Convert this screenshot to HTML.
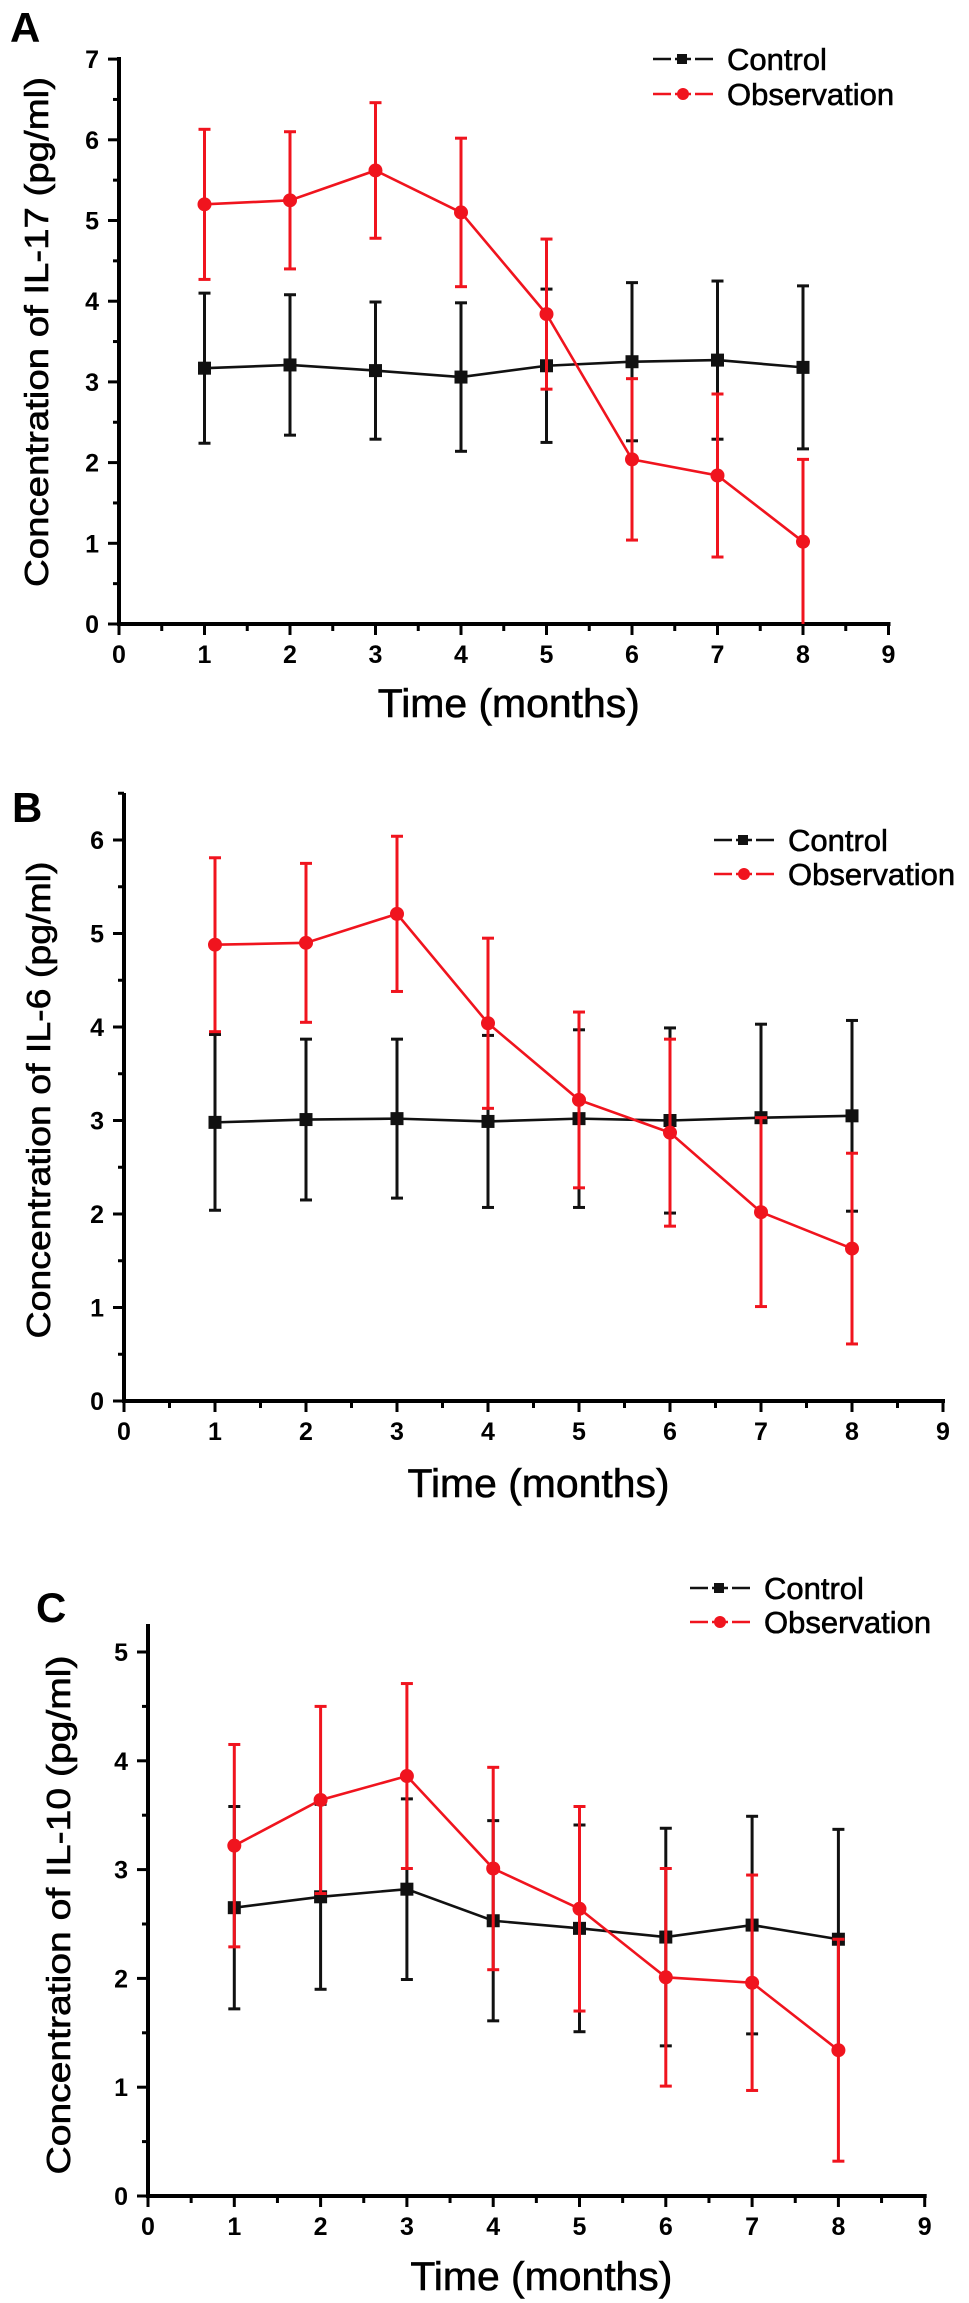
<!DOCTYPE html>
<html><head><meta charset="utf-8">
<style>
html,body{margin:0;padding:0;background:#fff;}
svg{display:block;}
text{font-family:"Liberation Sans",Arial,sans-serif;}
</style></head>
<body>
<svg id="fig" width="969" height="2303" viewBox="0 0 969 2303" xmlns="http://www.w3.org/2000/svg"></svg>
<script>
// ---- data ----
const months = [1,2,3,4,5,6,7,8];
const xTicks = [0,1,2,3,4,5,6,7,8,9];
const aControl = [3.17,3.21,3.14,3.06,3.20,3.25,3.27,3.18];
const aControlErr = [0.93,0.87,0.85,0.92,0.95,0.98,0.98,1.01];
const aObs = [5.20,5.25,5.62,5.10,3.84,2.04,1.84,1.02];
const aObsErr = [0.93,0.85,0.84,0.92,0.93,1.00,1.01,1.02];
const aYTicks = [0,1,2,3,4,5,6,7];
const bControl = [2.98,3.01,3.02,2.99,3.02,3.00,3.03,3.05];
const bControlErr = [0.94,0.86,0.85,0.92,0.95,0.99,1.00,1.02];
const bObs = [4.88,4.90,5.21,4.04,3.22,2.87,2.02,1.63];
const bObsErr = [0.93,0.85,0.83,0.91,0.94,1.00,1.01,1.02];
const bYTicks = [0,1,2,3,4,5,6];
const cControl = [2.65,2.75,2.82,2.53,2.46,2.38,2.49,2.36];
const cControlErr = [0.93,0.85,0.83,0.92,0.95,1.00,1.00,1.01];
const cObs = [3.22,3.64,3.86,3.01,2.64,2.01,1.96,1.34];
const cObsErr = [0.93,0.86,0.85,0.93,0.94,1.00,0.99,1.02];
const cYTicks = [0,1,2,3,4,5];

const NS = "http://www.w3.org/2000/svg";
const svg = document.getElementById('fig');
function mk(tag, attrs, parent){
  const e = document.createElementNS(NS, tag);
  for (const k in attrs) e.setAttribute(k, attrs[k]);
  (parent||svg).appendChild(e);
  return e;
}

const panels = [
  {letter:'A', lx:10, ly:42, x0:119, xu:85.5, y0:624, yu:80.7, ymax:7, top:57,
   ylabel:'Concentration of IL-17 (pg/ml)', ylx:48, yly:332, yllen:510,
   tly:717, ctrl:aControl, ctrlE:aControlErr, obs:aObs, obsE:aObsErr, yt:aYTicks,
   legX:653, legY:[59,94], name:'il17'},
  {letter:'B', lx:12, ly:822, x0:124, xu:91, y0:1401, yu:93.5, ymax:6.5, top:793,
   ylabel:'Concentration of IL-6 (pg/ml)', ylx:50, yly:1100, yllen:477,
   tly:1497, ctrl:bControl, ctrlE:bControlErr, obs:bObs, obsE:bObsErr, yt:bYTicks,
   legX:714, legY:[840,874], name:'il6'},
  {letter:'C', lx:36, ly:1622, x0:148, xu:86.3, y0:2196, yu:108.8, ymax:5.3, top:1624,
   ylabel:'Concentration of IL-10 (pg/ml)', ylx:70, yly:1915, yllen:519,
   tly:2290, ctrl:cControl, ctrlE:cControlErr, obs:cObs, obsE:cObsErr, yt:cYTicks,
   legX:690, legY:[1588,1622], name:'il10'}
];

panels.forEach(p => {
  const g = mk('g', {});
  
  
  const X = v => p.x0 + v * p.xu;
  const Y = v => p.y0 - v * p.yu;

  const lt = mk('text', {x:p.lx, y:p.ly, 'font-size':42, 'font-weight':'bold', fill:'#000'}, g);
  lt.textContent = p.letter;
  
  

  const axes = mk('g', {stroke:'#000', 'stroke-width':4, fill:'none'}, g);
  
  
  mk('line', {x1:X(0), y1:p.top, x2:X(0), y2:p.y0+2}, axes);
  mk('line', {x1:X(0)-2, y1:p.y0, x2:X(9)+2, y2:p.y0}, axes);

  p.yt.forEach(t => {
    mk('line', {x1:X(0)-11, y1:Y(t), x2:X(0), y2:Y(t), 'stroke-width':3}, axes);
    if (Y(t+0.5) > p.top) mk('line', {x1:X(0)-6, y1:Y(t+0.5), x2:X(0), y2:Y(t+0.5), 'stroke-width':3}, axes);
    const tl = mk('text', {x:X(0)-20, y:Y(t)+9, 'font-size':25, 'font-weight':'bold', 'text-anchor':'end'}, g);
    tl.textContent = t;
    
    
  });
  xTicks.forEach(t => {
    mk('line', {x1:X(t), y1:p.y0, x2:X(t), y2:p.y0+11, 'stroke-width':3}, axes);
    if (t < 9) mk('line', {x1:X(t+0.5), y1:p.y0, x2:X(t+0.5), y2:p.y0+7, 'stroke-width':3}, axes);
    const tl = mk('text', {x:X(t), y:p.y0+39, 'font-size':25, 'font-weight':'bold', 'text-anchor':'middle'}, g);
    tl.textContent = t;
    
    
  });

  const yl = mk('text', {x:0, y:0, 'font-size':33, 'text-anchor':'middle', textLength:p.yllen, lengthAdjust:'spacingAndGlyphs',
    stroke:'#000', 'stroke-width':0.6,
    transform:`translate(${p.ylx},${p.yly}) rotate(-90)`}, g);
  yl.textContent = p.ylabel;
  
  
  const xl = mk('text', {x:(X(0)+X(9))/2+5, y:p.tly, 'font-size':40, 'text-anchor':'middle', textLength:262, lengthAdjust:'spacingAndGlyphs', stroke:'#000', 'stroke-width':0.6}, g);
  xl.textContent = 'Time (months)';
  
  

  const series = [
    {vals:p.ctrl, errs:p.ctrlE, color:'#111', shape:'square', name:'control'},
    {vals:p.obs, errs:p.obsE, color:'#f0141e', shape:'circle', name:'observation'}
  ];
  series.forEach(s => {
    const sg = mk('g', {}, g);
    
    
    const pts = months.map((m,i) => X(m)+','+Y(s.vals[i])).join(' ');
    const pl = mk('polyline', {points:pts, fill:'none', stroke:s.color, 'stroke-width':2.6}, sg);
    
    
    months.forEach((m,i) => {
      const hi = Y(s.vals[i] + s.errs[i]);
      const lo = Math.min(Y(Math.max(0, s.vals[i] - s.errs[i])), p.y0);
      const eb = mk('g', {stroke:s.color, 'stroke-width':3}, sg);
      
      
      mk('line', {x1:X(m), y1:hi, x2:X(m), y2:lo}, eb);
      mk('line', {x1:X(m)-6, y1:hi, x2:X(m)+6, y2:hi}, eb);
      if (lo < p.y0-1) mk('line', {x1:X(m)-6, y1:lo, x2:X(m)+6, y2:lo}, eb);
      let mark;
      if (s.shape === 'square') mark = mk('rect', {x:X(m)-6.5, y:Y(s.vals[i])-6.5, width:13, height:13, fill:s.color}, sg);
      else mark = mk('circle', {cx:X(m), cy:Y(s.vals[i]), r:7, fill:s.color}, sg);
      
      
    });
  });

  const lg = mk('g', {}, g);
  
  
  [['Control','#111','square'],['Observation','#f0141e','circle']].forEach((e,k) => {
    const eg = mk('g', {}, lg);
    
    
    const cy = p.legY[k];
    mk('line', {x1:p.legX, y1:cy, x2:p.legX+60, y2:cy, stroke:e[1], 'stroke-width':2.6}, eg);
    if (e[2]==='square') mk('rect', {x:p.legX+24, y:cy-5, width:10, height:10, fill:e[1]}, eg);
    else mk('circle', {cx:p.legX+30, cy:cy, r:6, fill:e[1]}, eg);
    mk('rect', {x:p.legX+18, y:cy-4, width:4, height:8, fill:'#fff'}, eg);
    mk('rect', {x:p.legX+38, y:cy-4, width:4, height:8, fill:'#fff'}, eg);
    const t = mk('text', {x:p.legX+74, y:cy+11, 'font-size':31, stroke:'#000', 'stroke-width':0.6}, eg);
    t.textContent = e[0];
  });
});
</script>
</body></html>
